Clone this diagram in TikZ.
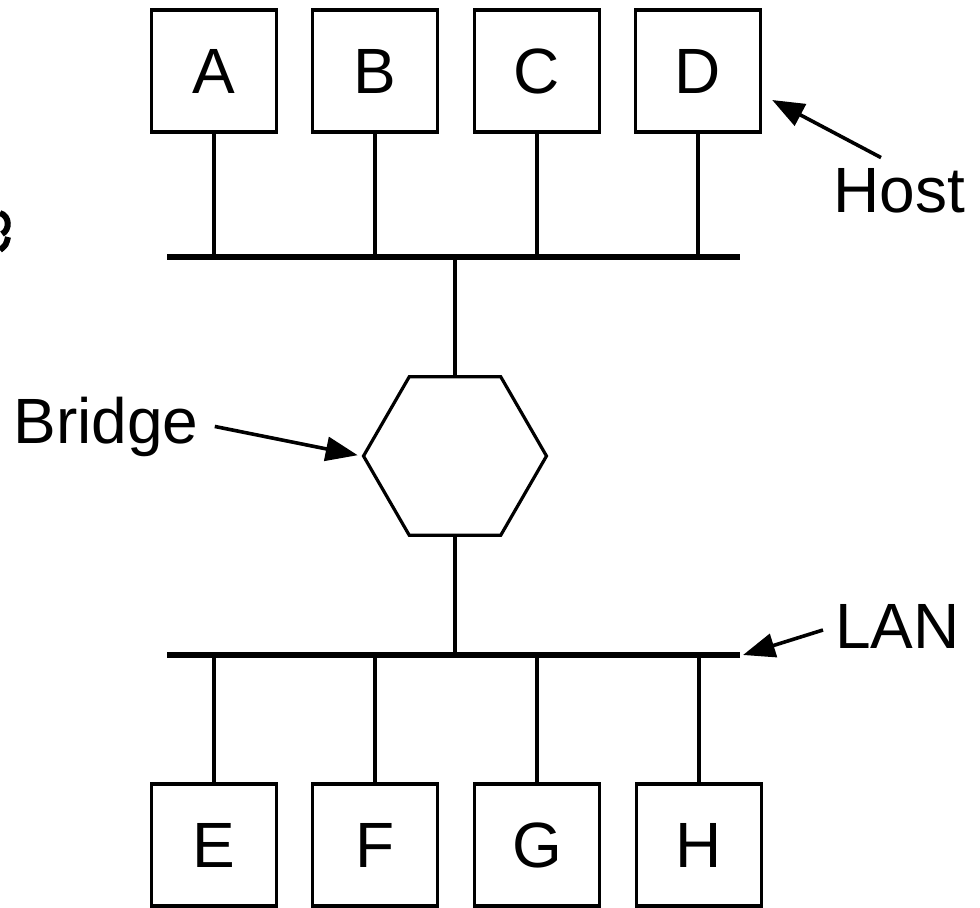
\documentclass[tikz,border=0pt]{standalone}
\usepackage{fontspec}
\setmainfont{Liberation Sans}
\usetikzlibrary{shapes.geometric,arrows.meta}
\tikzset{
  rechner/.style={draw,line width=1.7pt,minimum width=62.5pt,minimum height=61pt,inner sep=0pt,font=\fontsize{32}{38}\selectfont},
  schrift/.style={inner sep=0pt,font=\fontsize{32}{38}\selectfont},
  bus/.style={line width=3pt},
  stich/.style={line width=2.2pt},
  zeiger/.style={line width=1.8pt,-{Triangle[length=16pt,width=12pt]}}
}
\begin{document}
\begin{tikzpicture}[x=0.5pt,y=-0.5pt]
\useasboundingbox (0,0) rectangle (980,907);
% Rechner
\node[rechner] (A) at (214,71) {A};
\node[rechner] (B) at (375,71) {B};
\node[rechner] (C) at (537,71) {C};
\node[rechner] (D) at (698,71) {D};
\node[rechner] (E) at (214,845) {E};
\node[rechner] (F) at (375,845) {F};
\node[rechner] (G) at (537,845) {G};
\node[rechner] (H) at (699,845) {H};
% Bruecke
\node[draw,regular polygon,regular polygon sides=6,minimum size=91.5pt,inner sep=0pt,line width=1.6pt] (bruecke) at (455,456) {};
% Leitungen
\coordinate (obenL) at (167,257);
\coordinate (obenR) at (740,257);
\coordinate (untenL) at (167,655);
\coordinate (untenR) at (740,655);
\draw[bus] (obenL) -- (obenR);
\draw[bus] (untenL) -- (untenR);
\draw[stich] (A) -- (A |- obenL);
\draw[stich] (B) -- (B |- obenL);
\draw[stich] (C) -- (C |- obenL);
\draw[stich] (D) -- (D |- obenL);
\draw[stich] (E) -- (E |- untenL);
\draw[stich] (F) -- (F |- untenL);
\draw[stich] (G) -- (G |- untenL);
\draw[stich] (H) -- (H |- untenL);
\draw[stich] (bruecke) -- (bruecke |- obenL);
\draw[stich] (bruecke) -- (bruecke |- untenL);
% Beschriftungen
\node[schrift,anchor=base west] (lHost) at (833,212) {Host};
\node[schrift,anchor=base west] (lBridge) at (13,443) {Bridge};
\node[schrift,anchor=base west] (lLAN) at (835,648) {LAN};
% Pfeile
\draw[zeiger] ([xshift=24pt,yshift=5pt]lHost.north west) -- ([xshift=5pt,yshift=-14.5pt]D.east);
\draw[zeiger,shorten >=2pt] ([xshift=8pt]lBridge.east) -- (bruecke.west);
\draw[zeiger] ([xshift=-6pt,yshift=-2pt]lLAN.west) -- ([xshift=1.5pt]untenR);
% Rest am Rand
\draw[line width=3pt] (0,213) .. controls (10,216) and (10,230) .. (2,234);
\draw[line width=3pt] (8,237) .. controls (6,245) .. (0,250);
\end{tikzpicture}
\end{document}
